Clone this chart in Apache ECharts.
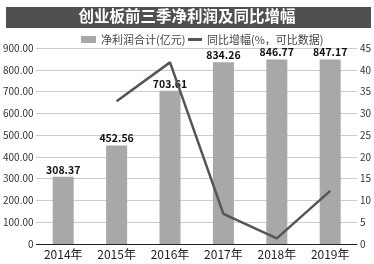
<!DOCTYPE html>
<html><head><meta charset="utf-8">
<script src="https://cdn.jsdelivr.net/npm/echarts@6/dist/echarts.min.js"></script>
<style>html,body{margin:0;padding:0;background:#fff}#c{width:374px;height:264px}</style>
</head><body><div id="c"></div>
<script>
var categories = ['2014年','2015年','2016年','2017年','2018年','2019年'];
var profit = [308.37, 452.56, 703.61, 834.26, 846.77, 847.17];
var growth = [null, 32.8, 41.7, 6.9, 1.3, 12.2];
var leftTicks = {min: 0, max: 900, interval: 100};
var rightTicks = {min: 0, max: 45, interval: 5};
var title = '创业板前三季净利润及同比增幅';
var legendNames = ['净利润合计(亿元)', '同比增幅(%，可比数据)'];

var chart = echarts.init(document.getElementById('c'));
var font = '"Noto Sans CJK SC", "Liberation Sans", sans-serif';
chart.setOption({
  animation: false,
  textStyle: {fontFamily: font},
  graphic: [
    {type: 'rect', shape: {x: 6, y: 7, width: 365, height: 21}, style: {fill: '#505050'}},
    {type: 'text', left: 'center', top: 8, style: {text: title, fill: '#fff', font: 'bold 15.5px ' + font}}
  ],
  legend: [
    {top: 29, left: 76, itemWidth: 15, itemHeight: 7, itemGap: 4,
     textStyle: {fontSize: 11, color: '#444', fontFamily: font},
     data: [{name: legendNames[0], icon: 'rect'}]},
    {top: 29, left: 183, itemWidth: 14, itemHeight: 3, itemGap: 4,
     textStyle: {fontSize: 11, color: '#444', fontFamily: font},
     data: [{name: legendNames[1], icon: 'rect', itemStyle: {color: '#555'}}]}
  ],
  grid: {left: 36, right: 14, top: 48, bottom: 20},
  xAxis: {
    type: 'category', data: categories,
    axisLine: {lineStyle: {color: '#222', width: 1}},
    axisTick: {show: false},
    axisLabel: {fontSize: 12, color: '#222', margin: 4, fontFamily: font}
  },
  yAxis: [
    {type: 'value', min: leftTicks.min, max: leftTicks.max, interval: leftTicks.interval,
     axisLine: {show: false}, axisTick: {show: false},
     axisLabel: {fontSize: 10, color: '#333', margin: 3, formatter: function(v){return v === 0 ? '0' : v.toFixed(2);}},
     splitLine: {lineStyle: {color: '#999', type: 'dotted'}}},
    {type: 'value', min: rightTicks.min, max: rightTicks.max, interval: rightTicks.interval,
     axisLine: {show: false}, axisTick: {show: false},
     axisLabel: {fontSize: 10, color: '#333', margin: 3},
     splitLine: {show: false}}
  ],
  series: [
    {name: legendNames[0], type: 'bar', data: profit, barWidth: 21,
     itemStyle: {color: '#a8a8a8'},
     label: {show: true, position: 'top', distance: 2, fontSize: 10.5, fontWeight: 'bold', color: '#111',
             formatter: function(p){return p.value.toFixed(2);}}},
    {name: legendNames[1], type: 'line', yAxisIndex: 1, data: growth,
     symbol: 'none', lineStyle: {color: '#555', width: 2.5}, itemStyle: {color: '#555'}}
  ]
});
</script></body></html>
